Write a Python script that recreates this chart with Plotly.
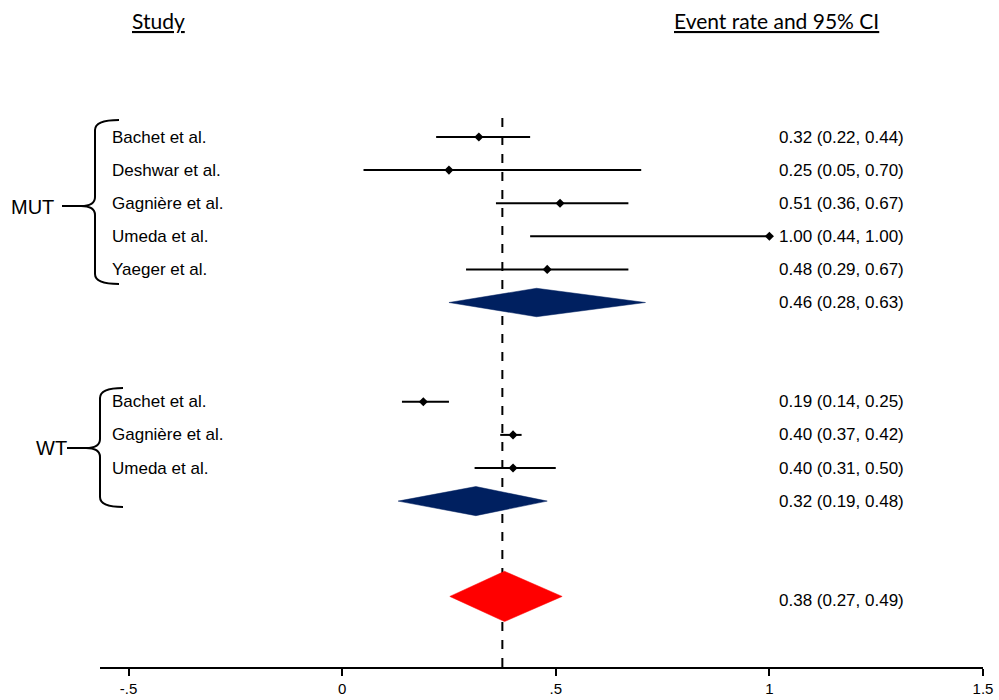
import plotly.graph_objects as go

# ---------------- data ----------------
mut_studies = ["Bachet et al.", "Deshwar et al.", "Gagnière et al.", "Umeda et al.", "Yaeger et al."]
mut_est = [0.32, 0.25, 0.51, 1.00, 0.48]
mut_lo = [0.22, 0.05, 0.36, 0.44, 0.29]
mut_hi = [0.44, 0.70, 0.67, 1.00, 0.67]

wt_studies = ["Bachet et al.", "Gagnière et al.", "Umeda et al."]
wt_est = [0.19, 0.40, 0.40]
wt_lo = [0.14, 0.37, 0.31]
wt_hi = [0.25, 0.42, 0.50]

pooled_names = ["MUT", "WT", "Overall"]
pooled_est = [0.46, 0.32, 0.38]
pooled_lo = [0.28, 0.19, 0.27]
pooled_hi = [0.63, 0.48, 0.49]
# diamond extents as drawn in the figure
diamond_lo = [0.25, 0.131, 0.252]
diamond_mid = [0.455, 0.313, 0.38]
diamond_hi = [0.71, 0.48, 0.515]
diamond_colors = ["#002060", "#002060", "#FF0000"]

ref_line = 0.375

tick_vals = [-0.5, 0, 0.5, 1, 1.5]
tick_text = ["-.5", "0", ".5", "1", "1.5"]

# ---------------- layout helpers ----------------
W, H = 999, 700
L, R, T, B = 100, 16, 0, 33
PW, PH = W - L - R, H - T - B


def pxx(x):
    return (x - L) / PW


def pxy(y):
    return (H - B - y) / PH


ROW0, ROWH = 137, 33.1
y_top = (0 - ROW0) / ROWH
y_bot = (H - B - ROW0) / ROWH

mut_rows = list(range(len(mut_studies)))
mut_pool_row = len(mut_studies)
wt_rows = [mut_pool_row + 3 + i for i in range(len(wt_studies))]
wt_pool_row = wt_rows[-1] + 1
overall_row = wt_pool_row + 2.88
overall_text_row = wt_pool_row + 3.0
pool_rows = [mut_pool_row, wt_pool_row, overall_row]
pool_text_rows = [mut_pool_row, wt_pool_row, overall_text_row]
half_h = [0.43, 0.44, 0.76]

fig = go.Figure()

# reference dashed line
fig.add_shape(type="line", xref="x", yref="paper", x0=ref_line, x1=ref_line,
              y0=0, y1=pxy(115), line=dict(color="black", width=2, dash="dash"),
              layer="below")

# study points with CI
for est, lo, hi, rows in [(mut_est, mut_lo, mut_hi, mut_rows), (wt_est, wt_lo, wt_hi, wt_rows)]:
    fig.add_trace(go.Scatter(
        x=est, y=rows, mode="markers",
        marker=dict(symbol="diamond", size=7, color="black"),
        error_x=dict(type="data", symmetric=False,
                     array=[h - e for e, h in zip(est, hi)],
                     arrayminus=[e - l for e, l in zip(est, lo)],
                     width=0, thickness=2, color="black"),
        hoverinfo="skip", showlegend=False))

# pooled diamonds
for lo, mid, hi, row, hh, col in zip(diamond_lo, diamond_mid, diamond_hi, pool_rows, half_h, diamond_colors):
    fig.add_trace(go.Scatter(
        x=[lo, mid, hi, mid, lo], y=[row, row - hh, row, row + hh, row],
        mode="lines", fill="toself", fillcolor=col,
        line=dict(color=col, width=0.5), hoverinfo="skip", showlegend=False))

annotations = []
name_font = dict(family="Liberation Sans, Arial", size=17, color="black")
val_font = dict(family="Liberation Sans, Arial", size=17, color="black")

for names, rows in [(mut_studies, mut_rows), (wt_studies, wt_rows)]:
    for n, r in zip(names, rows):
        annotations.append(dict(x=pxx(110), xref="paper", y=r, yref="y", text=n,
                                xanchor="left", yanchor="middle", showarrow=False, font=name_font))

for est, lo, hi, rows in [(mut_est, mut_lo, mut_hi, mut_rows), (wt_est, wt_lo, wt_hi, wt_rows),
                          (pooled_est, pooled_lo, pooled_hi, pool_text_rows)]:
    for e, l, h, r in zip(est, lo, hi, rows):
        annotations.append(dict(x=pxx(777), xref="paper", y=r, yref="y",
                                text=f"{e:.2f} ({l:.2f}, {h:.2f})",
                                xanchor="left", yanchor="middle", showarrow=False, font=val_font))

# headers
hdr_font = dict(family="Lato, Open Sans", size=21, color="black")
annotations.append(dict(x=pxx(130), xref="paper", y=pxy(21), yref="paper", text="<u>Study</u>",
                        xanchor="left", yanchor="middle", showarrow=False, font=hdr_font))
annotations.append(dict(x=pxx(672), xref="paper", y=pxy(21), yref="paper",
                        text="<u>Event rate and 95% CI</u>",
                        xanchor="left", yanchor="middle", showarrow=False, font=hdr_font))

# group labels
grp_font = dict(family="Liberation Sans, Arial", size=20, color="black")
annotations.append(dict(x=pxx(9), xref="paper", y=pxy(207), yref="paper", text="MUT",
                        xanchor="left", yanchor="middle", showarrow=False, font=grp_font))
annotations.append(dict(x=pxx(34), xref="paper", y=pxy(448), yref="paper", text="WT",
                        xanchor="left", yanchor="middle", showarrow=False, font=grp_font))


def brace(v, top, bot, tip, tipx, end):
    pts = [
        f"M {pxx(end)},{pxy(top)}",
        f"Q {pxx(v)},{pxy(top)} {pxx(v)},{pxy(top + 10)}",
        f"L {pxx(v)},{pxy(tip - 9)}",
        f"Q {pxx(v)},{pxy(tip)} {pxx(v - 14)},{pxy(tip)}",
        f"L {pxx(tipx)},{pxy(tip)}",
        f"M {pxx(v - 14)},{pxy(tip)}",
        f"Q {pxx(v)},{pxy(tip)} {pxx(v)},{pxy(tip + 9)}",
        f"L {pxx(v)},{pxy(bot - 10)}",
        f"Q {pxx(v)},{pxy(bot)} {pxx(end)},{pxy(bot)}",
    ]
    return " ".join(pts)


fig.add_shape(type="path", xref="paper", yref="paper", path=brace(95, 120, 284, 206, 62, 119),
              line=dict(color="black", width=2))
fig.add_shape(type="path", xref="paper", yref="paper", path=brace(100, 388, 507, 448, 67, 123),
              line=dict(color="black", width=2))

fig.update_layout(
    width=W, height=H,
    margin=dict(l=L, r=R, t=T, b=B, autoexpand=False),
    paper_bgcolor="white", plot_bgcolor="white",
    showlegend=False,
    annotations=annotations,
    xaxis=dict(range=[-0.5 - 28.5 / 426.8, 1.5], tickvals=tick_vals, ticktext=tick_text,
               showline=True, linecolor="black", linewidth=1.5, ticks="outside",
               ticklen=7, tickwidth=1.5, tickcolor="black", showgrid=False, zeroline=False,
               tickfont=dict(family="Liberation Sans, Arial", size=15, color="black"),
               ticklabelstandoff=0,
               automargin=False, fixedrange=True),
    yaxis=dict(range=[y_bot, y_top], visible=False, showgrid=False, zeroline=False,
               automargin=False, fixedrange=True),
)

fig.write_html("out.html", config={"displayModeBar": False},
               post_script="document.body.style.margin='0';document.body.style.overflow='hidden';")
